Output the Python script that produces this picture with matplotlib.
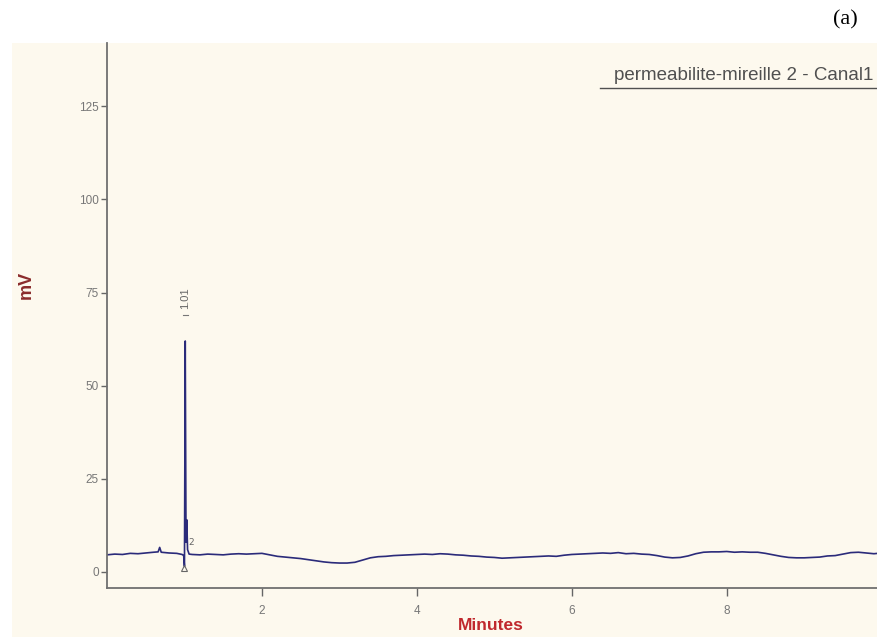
import matplotlib
matplotlib.use("Agg")
import matplotlib.pyplot as plt
from matplotlib.patches import Rectangle

# chromatogram trace (minutes, mV)
time_min = [0.00, 0.10, 0.20, 0.30, 0.40, 0.50, 0.60, 0.66, 0.68, 0.70, 0.80, 0.90,
            0.97, 0.99, 1.000, 1.005, 1.010, 1.015, 1.020, 1.030, 1.040, 1.060,
            1.10, 1.20, 1.30, 1.40, 1.50, 1.60, 1.70, 1.80, 1.90, 2.00,
            2.10, 2.20, 2.30, 2.40, 2.50, 2.60, 2.70, 2.80, 2.90, 3.00,
            3.10, 3.20, 3.30, 3.40, 3.50, 3.60, 3.70, 3.80, 3.90, 4.00,
            4.10, 4.20, 4.30, 4.40, 4.50, 4.60, 4.70, 4.80, 4.90, 5.00,
            5.10, 5.20, 5.30, 5.40, 5.50, 5.60, 5.70, 5.80, 5.90, 6.00,
            6.10, 6.20, 6.30, 6.40, 6.50, 6.60, 6.70, 6.80, 6.90, 7.00,
            7.10, 7.20, 7.30, 7.40, 7.50, 7.60, 7.70, 7.80, 7.90, 8.00,
            8.10, 8.20, 8.30, 8.40, 8.50, 8.60, 8.70, 8.80, 8.90, 9.00,
            9.10, 9.20, 9.30, 9.40, 9.50, 9.60, 9.70, 9.80, 9.90, 9.95]
signal_mv = [4.6, 4.8, 4.7, 5.0, 4.9, 5.1, 5.3, 5.4, 6.6, 5.3, 5.1, 5.0,
             4.7, 4.4, 1.5, 30.0, 62.0, 35.0, 8.0, 14.0, 6.0, 4.8,
             4.7, 4.6, 4.8, 4.7, 4.6, 4.8, 4.9, 4.8, 4.9, 5.0,
             4.6, 4.2, 4.0, 3.8, 3.6, 3.3, 3.0, 2.7, 2.5, 2.4,
             2.4, 2.6, 3.2, 3.8, 4.1, 4.2, 4.4, 4.5, 4.6, 4.7,
             4.8, 4.7, 4.9, 4.8, 4.6, 4.5, 4.3, 4.2, 4.0, 3.9,
             3.7, 3.8, 3.9, 4.0, 4.1, 4.2, 4.3, 4.2, 4.5, 4.7,
             4.8, 4.9, 5.0, 5.1, 5.0, 5.2, 4.9, 5.0, 4.8, 4.7,
             4.4, 4.0, 3.8, 3.9, 4.3, 4.9, 5.3, 5.4, 5.4, 5.5,
             5.3, 5.4, 5.3, 5.3, 5.0, 4.6, 4.2, 3.9, 3.8, 3.8,
             3.9, 4.0, 4.3, 4.4, 4.8, 5.2, 5.3, 5.1, 4.9, 5.0]

peak_time = 1.01
peak_label = "1.01"
y_ticks = [0, 25, 50, 75, 100, 125]
x_ticks = [2, 4, 6, 8]

cream = '#fdf9ee'
grey = '#666666'

fig = plt.figure(figsize=(8.77, 6.37), dpi=100)
fig.patch.set_facecolor('white')
bg = Rectangle((12 / 877, 0), 1, 1 - 43 / 637, transform=fig.transFigure,
               facecolor=cream, edgecolor='none', zorder=-10)
fig.patches.append(bg)

ax = fig.add_axes([107 / 877, 49 / 637, 1 - 107 / 877, (588 - 43) / 637])
ax.set_zorder(1)
ax.set_facecolor(cream)

ax.plot(time_min, signal_mv, color='#2b2b7a', lw=1.2)

ax.set_xlim(0, 9.94)
ax.set_ylim(-4.3, 142)
ax.set_xticks(x_ticks)
ax.set_yticks(y_ticks)
ax.tick_params(axis='both', direction='out', colors=grey, labelsize=8.5, length=4, width=1)
ax.tick_params(axis='y', pad=2)
ax.tick_params(axis='x', length=6, pad=6)
for lab in ax.get_xticklabels() + ax.get_yticklabels():
    lab.set_family('Liberation Sans')
    lab.set_color('#777777')

for side in ['top', 'right']:
    ax.spines[side].set_visible(False)
for side in ['left', 'bottom']:
    ax.spines[side].set_color('#707070')
    ax.spines[side].set_linewidth(1.3)

# peak annotations
ax.text(peak_time, 73.5, peak_label, rotation=90, ha='center', va='center',
        fontsize=8, color='#666666', family='Liberation Sans')
ax.plot([peak_time - 0.03, peak_time + 0.03], [69, 69], color='#777777', lw=0.8)
ax.text(1.09, 8, "2", fontsize=6.5, color='#666666', ha='center', va='center')
ax.plot([1.0], [1.2], marker='^', markersize=4, mfc='none', mec='#666666', mew=0.8)

ax.set_ylabel('mV', color='#8b2c2c', fontsize=13, family='Liberation Sans', weight='bold')
ax.yaxis.set_label_coords((35 - 107) / (877 - 107), (588 - 285) / 545)
ax.set_xlabel('Minutes', color='#c0282d', fontsize=12.5, family='Liberation Sans',
              weight='bold', va='center')
ax.xaxis.set_label_coords((491 - 107) / (877 - 107), (588 - 626) / 545)

fig.text(873 / 877, 1 - 76 / 637, 'permeabilite-mireille 2 - Canal1', ha='right',
         va='center', fontsize=13.5, color='#505050', family='Liberation Sans')
fig.add_artist(plt.Line2D([600 / 877, 1], [1 - 88 / 637, 1 - 88 / 637],
                          transform=fig.transFigure, color='#505050', lw=1))

fig.text(845 / 877, 1 - 20 / 637, '(a)', ha='center', va='center', fontsize=16,
         family='Liberation Serif', color='black')

fig.savefig('out.png', dpi=100, facecolor='white')
